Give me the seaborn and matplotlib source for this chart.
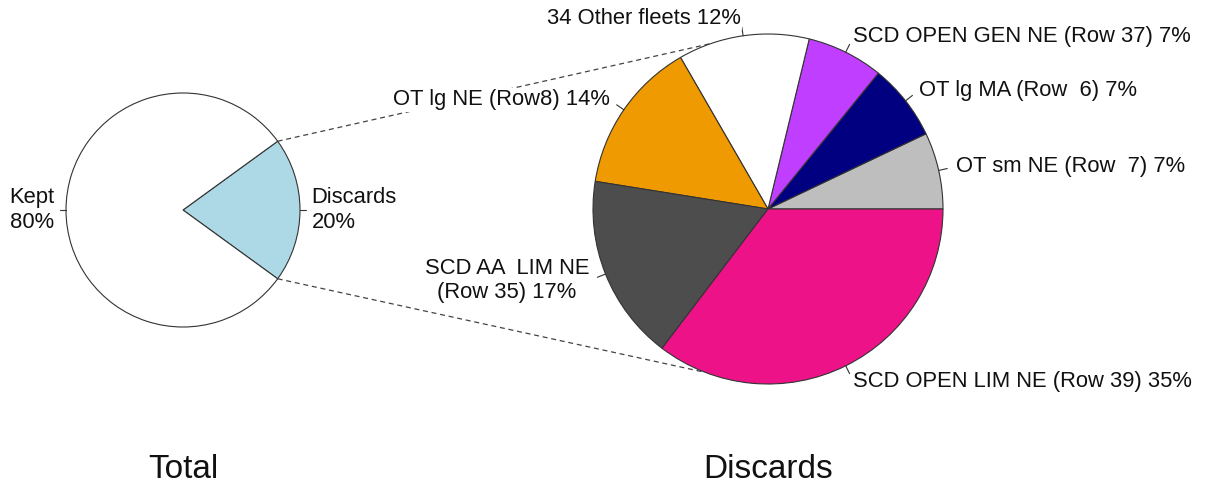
import numpy as np
import matplotlib
matplotlib.use("Agg")
import matplotlib.pyplot as plt
import seaborn as sns

# ---- data ----
total_labels = ["Discards", "Kept"]
total_values = [20, 80]
total_colors = ["#ADD8E6", "#FFFFFF"]

disc_labels = ["OT sm NE (Row  7)", "OT lg MA (Row  6)", "SCD OPEN GEN NE (Row 37)",
               "34 Other fleets", "OT lg NE (Row8)", "SCD AA  LIM NE\n(Row 35)",
               "SCD OPEN LIM NE (Row 39)"]
disc_values = [7, 7, 7, 12, 14, 17, 35]
disc_colors = ["#BEBEBE", "#000080", "#BF3EFF", "#FFFFFF", "#EE9A00", "#4D4D4D", "#EE1289"]

titles = ["Total", "Discards"]

sns.set_theme(style="white")
plt.rcParams['font.family'] = ['Liberation Sans', 'DejaVu Sans']

W, H = 1209, 490
fig = plt.figure(figsize=(W / 100, H / 100), dpi=100)
ax = fig.add_axes([0, 0, 1, 1])

FS = 15.8
edge = dict(edgecolor="#333333", linewidth=0.8)


def draw_pie(values, labels, colors, center, radius, startangle, sep):
    wedges, _ = ax.pie(values, colors=colors, center=center, radius=radius,
                       startangle=startangle, counterclock=True,
                       wedgeprops=edge)
    for w, lab, v in zip(wedges, labels, values):
        mid = np.deg2rad((w.theta1 + w.theta2) / 2)
        c, s = np.cos(mid), np.sin(mid)
        ax.plot([center[0] + radius * c, center[0] + 1.05 * radius * c],
                [center[1] + radius * s, center[1] + 1.05 * radius * s],
                color="#333333", lw=0.8)
        pct = int(round(v))
        ax.text(center[0] + 1.1 * radius * c, center[1] + 1.1 * radius * s,
                f"{lab}{sep}{pct}%", ha="left" if c >= 0 else "right",
                va="center", fontsize=FS, color="#111111", zorder=5,
                bbox=dict(facecolor="white", edgecolor="none", pad=1.0),
                multialignment="center" if "\n" in lab else ("left" if c >= 0 else "right"))
    return wedges


cL = (183, H - 210)
rL = 117
cR = (768, H - 209)
rR = 175

draw_pie(total_values, total_labels, total_colors, cL, rL, -36, "\n")
draw_pie(disc_values, disc_labels, disc_colors, cR, rR, 0, " ")

# connector dashed lines
for aL, aR in [(36, 109), (-36, 249)]:
    x0 = cL[0] + rL * np.cos(np.deg2rad(aL))
    y0 = cL[1] + rL * np.sin(np.deg2rad(aL))
    x1 = cR[0] + rR * np.cos(np.deg2rad(aR))
    y1 = cR[1] + rR * np.sin(np.deg2rad(aR))
    ax.plot([x0, x1], [y0, y1], ls=(0, (4, 3)), color="#444444", lw=0.9, zorder=0)

ax.text(cL[0], H - 469, titles[0], ha="center", va="center", fontsize=24, color="#111111")
ax.text(cR[0], H - 469, titles[1], ha="center", va="center", fontsize=24, color="#111111")

ax.set_xlim(0, W)
ax.set_ylim(0, H)
ax.set_aspect("equal")
ax.axis("off")

fig.savefig("out.png", dpi=100, facecolor="white")
